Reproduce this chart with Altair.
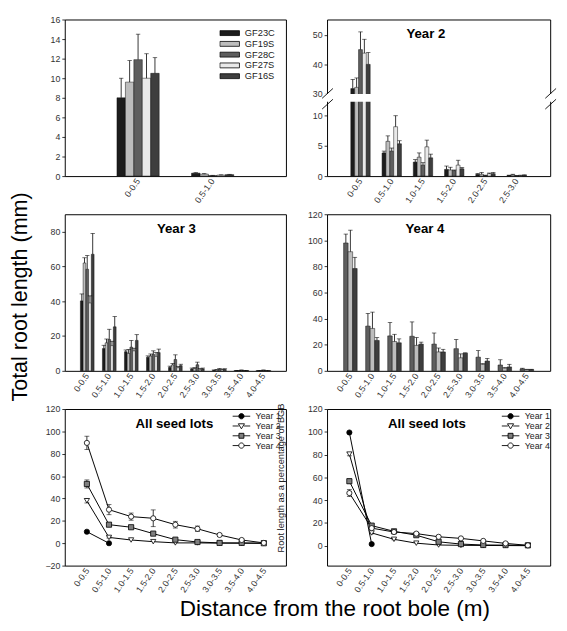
import altair as alt
import pandas as pd

FONT = "Liberation Sans"

DIST = ["0-0.5", "0.5-1.0", "1.0-1.5", "1.5-2.0", "2.0-2.5",
        "2.5-3.0", "3.0-3.5", "3.5-4.0", "4.0-4.5"]
LOTS = ["GF23C", "GF19S", "GF28C", "GF27S", "GF16S"]
LOT_COLORS = ["#1c1c1c", "#bdbdbd", "#5e5e5e", "#e9e9e9", "#3e3e3e"]

# ---- Year 1 (two distance classes) ----
Y1_DIST = DIST[:2]
Y1_MEAN = {"GF23C": [8.0, 0.30], "GF19S": [9.6, 0.20], "GF28C": [11.9, 0.05],
           "GF27S": [10.0, 0.10], "GF16S": [10.5, 0.15]}
Y1_TOP = {"GF23C": [10.0, 0.35], "GF19S": [11.8, 0.25], "GF28C": [14.5, 0.08],
          "GF27S": [12.5, 0.13], "GF16S": [12.1, 0.18]}

# ---- Year 2 (six distance classes, broken axis) ----
Y2_DIST = DIST[:6]
Y2_MEAN = {"GF23C": [31.8, 3.8, 2.3, 1.1, 0.3, 0.10],
           "GF19S": [32.2, 5.7, 3.1, 1.0, 0.3, 0.20],
           "GF28C": [45.0, 4.1, 1.8, 0.9, 0.1, 0.05],
           "GF27S": [43.8, 8.1, 4.8, 1.8, 0.4, 0.10],
           "GF16S": [40.0, 5.3, 3.0, 1.2, 0.4, 0.15]}
Y2_TOP = {"GF23C": [34.9, 4.1, 2.7, 1.65, 0.4, 0.15],
          "GF19S": [35.4, 6.6, 3.8, 1.45, 0.6, 0.30],
          "GF28C": [51.0, 4.6, 2.2, 1.0, 0.15, 0.08],
          "GF27S": [48.5, 9.9, 5.9, 2.6, 0.5, 0.15],
          "GF16S": [44.0, 5.8, 3.6, 1.4, 0.6, 0.20]}
Y2_BREAK = [12.2, 30.0]

# ---- Year 3 ----
Y3_MEAN = {"GF23C": [40.2, 12.8, 11.0, 7.8, 2.0, 1.0, 0.3, 0.1, 0.05],
           "GF19S": [62.0, 16.1, 10.0, 8.5, 3.4, 1.4, 0.5, 0.1, 0.10],
           "GF28C": [58.4, 18.0, 13.6, 9.5, 6.5, 3.5, 0.7, 0.3, 0.30],
           "GF27S": [39.0, 14.5, 11.5, 8.3, 1.8, 0.5, 0.7, 0.1, 0.10],
           "GF16S": [67.0, 25.3, 17.5, 10.5, 3.0, 1.1, 0.8, 0.1, 0.05]}
Y3_TOP = {"GF23C": [44.2, 14.7, 12.0, 8.6, 2.7, 1.6, 0.5, 0.2, 0.10],
          "GF19S": [65.0, 18.3, 12.3, 9.7, 4.2, 1.8, 0.7, 0.2, 0.15],
          "GF28C": [66.3, 23.9, 17.5, 11.5, 9.2, 5.0, 1.4, 0.5, 0.50],
          "GF27S": [43.1, 17.0, 13.0, 10.6, 2.6, 1.3, 1.0, 0.2, 0.15],
          "GF16S": [79.0, 31.2, 20.8, 12.5, 3.8, 1.6, 1.2, 0.2, 0.10]}

# ---- Year 4 (three seed lots) ----
Y4_LOTS = ["GF28C", "GF19S", "GF16S"]
Y4_MEAN = {"GF28C": [98.0, 34.3, 26.8, 26.5, 20.5, 17.0, 10.5, 4.5, 1.5],
           "GF19S": [91.3, 32.5, 22.5, 19.5, 14.5, 10.0, 5.0, 2.0, 1.0],
           "GF16S": [78.4, 23.3, 21.5, 20.5, 14.5, 13.5, 7.5, 3.0, 1.0]}
Y4_TOP = {"GF28C": [104.8, 44.0, 37.0, 37.5, 29.0, 24.0, 15.5, 8.5, 2.0],
          "GF19S": [107.8, 45.0, 28.0, 25.5, 17.5, 13.0, 5.5, 2.5, 1.2],
          "GF16S": [87.0, 25.5, 24.5, 22.0, 16.5, 13.8, 9.5, 5.0, 1.2]}

# ---- All seed lots ----
YEARS = ["Year 1", "Year 2", "Year 3", "Year 4"]
ABS_MEAN = {"Year 1": [10.3, 0.0],
            "Year 2": [38.0, 5.2, 2.9, 1.4, 0.3, 0.3, 0.1, 0.0, 0.0],
            "Year 3": [53.0, 16.6, 14.3, 8.6, 3.2, 1.1, 0.3, 0.3, 0.0],
            "Year 4": [89.7, 30.0, 23.8, 22.3, 16.6, 12.9, 7.4, 2.9, 0.3]}
ABS_ERR = {"Year 1": [0.8, 0.2],
           "Year 2": [2.0, 0.6, 0.4, 0.3, 0.1, 0.1, 0.0, 0.0, 0.0],
           "Year 3": [3.6, 1.5, 1.5, 0.8, 0.6, 0.4, 0.1, 0.1, 0.0],
           "Year 4": [6.0, 4.5, 3.2, 7.5, 3.0, 2.5, 1.2, 0.8, 0.1]}
PCT_MEAN = {"Year 1": [99.4, 1.4],
            "Year 2": [80.4, 11.2, 5.6, 2.2, 0.6, 0.3, 0.2, 0.1, 0.0],
            "Year 3": [56.6, 17.6, 12.6, 9.2, 3.4, 1.4, 0.6, 0.5, 0.3],
            "Year 4": [46.2, 15.4, 12.0, 10.6, 7.8, 6.4, 4.2, 2.0, 0.3]}
PCT_ERR = {"Year 1": [0.8, 0.3],
           "Year 2": [1.5, 0.8, 0.5, 0.3, 0.1, 0.1, 0.0, 0.0, 0.0],
           "Year 3": [2.0, 1.0, 0.8, 0.6, 0.4, 0.2, 0.1, 0.1, 0.0],
           "Year 4": [3.0, 1.0, 0.8, 0.6, 0.5, 0.5, 0.3, 0.2, 0.1]}

YEAR_SHAPES = ["circle", "triangle-down", "square", "circle"]
YEAR_FILLS = ["black", "white", "#7f7f7f", "white"]
YEAR_STROKES = ["black", "black", "black", "black"]
LEGEND_PATHS = [
    "M-1,0H-0.3M0.3,0H1M0.3,0A0.3,0.3,0,1,1,-0.3,0A0.3,0.3,0,1,1,0.3,0Z",
    "M-1,0H-0.3M0.3,0H1M-0.35,-0.25L0.35,-0.25L0,0.32Z",
    "M-1,0H-0.28M0.28,0H1M-0.28,-0.28H0.28V0.28H-0.28Z",
    "M-1,0H-0.3M0.3,0H1M0.3,0A0.3,0.3,0,1,1,-0.3,0A0.3,0.3,0,1,1,0.3,0Z",
]
SLASH_PATH = "M-0.55,0.05L0.55,-0.95M-0.55,1.15L0.55,0.15"

W1, W2, H = 226, 228, 160


def bar_df(dists, lots, means, tops):
    rows = []
    for lot in lots:
        for d, m, t in zip(dists, means[lot], tops[lot]):
            rows.append({"dist": d, "lot": lot, "mean": m, "top": t})
    return pd.DataFrame(rows)


def line_df(means, errs):
    rows = []
    for yr in YEARS:
        for d, m, e in zip(DIST, means[yr], errs[yr]):
            rows.append({"dist": d, "year": yr, "val": m, "lo": m - e, "hi": m + e, "e": e})
    return pd.DataFrame(rows)


def xaxis(extra=None):
    kw = dict(title=None, labelAngle=-55, ticks=False, domain=False,
              labelPadding=3, labelFontSize=9)
    kw.update(extra or {})
    return alt.Axis(**kw)


def yaxis(values, extra=None):
    kw = dict(title=None, values=values, tickSize=3, labelPadding=2)
    kw.update(extra or {})
    return alt.Axis(**kw)


def title_layer(text, tx):
    return alt.Chart(pd.DataFrame({"t": [text]})).mark_text(
        font=FONT, fontSize=13.5, fontWeight="bold", color="black"
    ).encode(text="t:N", x=alt.value(tx), y=alt.value(15))


def bar_panel(df, dists, lots, w, yscale, yvalues, pi, po, legend=None,
              title=None, tx=0, yaxis_kw=None, broken=None):
    xenc = alt.X("dist:N", sort=dists,
                 scale=alt.Scale(domain=dists, paddingInner=pi, paddingOuter=po),
                 axis=xaxis())
    xoff = alt.XOffset("lot:N", sort=lots,
                       scale=alt.Scale(domain=lots, paddingInner=0, paddingOuter=0))
    yax = yaxis(yvalues, yaxis_kw)
    base = alt.Chart(df)
    bars = base.mark_bar(stroke="#111111", strokeWidth=0.5).encode(
        x=xenc, xOffset=xoff,
        y=alt.Y("mean:Q", scale=yscale, axis=yax),
        fill=alt.Fill("lot:N", scale=alt.Scale(domain=LOTS, range=LOT_COLORS),
                      legend=legend))
    errs = base.mark_rule(color="black", strokeWidth=0.8).encode(
        x=xenc, xOffset=xoff, y=alt.Y("mean:Q", scale=yscale, axis=yax), y2="top:Q")
    caps = base.mark_tick(color="black", thickness=0.8, size=4.5).encode(
        x=xenc, xOffset=xoff, y=alt.Y("top:Q", scale=yscale, axis=yax))
    layers = [bars, errs, caps]
    if broken is not None:
        gap = alt.Chart(pd.DataFrame({"lo": [Y2_BREAK[0]], "hi": [Y2_BREAK[1]]})).mark_rect(
            fill="white").encode(
            x=alt.value(-4), x2=alt.value(w + 4),
            y=alt.Y("lo:Q", scale=yscale, axis=yax), y2="hi:Q")
        layers.append(gap)
        for sx in [0.5, w + 0.5]:
            layers.append(
                alt.Chart(pd.DataFrame({"k": [0]})).mark_point(
                    shape=SLASH_PATH, size=400, stroke="black", strokeWidth=0.9,
                    filled=False, opacity=1).encode(x=alt.value(sx), y=alt.value(broken)))
    if title:
        layers.append(title_layer(title, tx))
    return alt.layer(*layers).properties(width=w, height=H)


def line_panel(df, w, ydomain, yvalues, legx, tx, xaxis_kw=None, yaxis_kw=None):
    xenc = alt.X("dist:N", sort=DIST, scale=alt.Scale(type="point", domain=DIST, padding=1),
                 axis=xaxis(xaxis_kw))
    yscale = alt.Scale(domain=ydomain, nice=False, zero=False)
    yax = yaxis(yvalues, yaxis_kw)
    base = alt.Chart(df)
    line = base.mark_line(color="black", strokeWidth=1).encode(
        x=xenc, y=alt.Y("val:Q", scale=yscale, axis=yax), detail="year:N")
    ebase = base.transform_filter("datum.e >= 0.5")
    rule = ebase.mark_rule(color="black", strokeWidth=0.8).encode(
        x=xenc, y=alt.Y("lo:Q", scale=yscale, axis=yax), y2="hi:Q")
    caplo = ebase.mark_tick(color="black", thickness=0.8, size=5).encode(
        x=xenc, y=alt.Y("lo:Q", scale=yscale, axis=yax))
    caphi = ebase.mark_tick(color="black", thickness=0.8, size=5).encode(
        x=xenc, y=alt.Y("hi:Q", scale=yscale, axis=yax))
    pts = base.mark_point(size=28, stroke="black", strokeWidth=0.8, opacity=1).encode(
        x=xenc, y=alt.Y("val:Q", scale=yscale, axis=yax),
        shape=alt.Shape("year:N", scale=alt.Scale(domain=YEARS, range=YEAR_SHAPES), legend=None),
        fill=alt.Fill("year:N", scale=alt.Scale(domain=YEARS, range=YEAR_FILLS), legend=None))
    leg = dict(title=None, orient="none", legendX=legx, legendY=2.5, symbolSize=324,
               symbolStrokeWidth=0.9, symbolOpacity=1,
               labelFontSize=9, labelColor="#222", labelOffset=5, clipHeight=9.7,
               rowPadding=0, padding=0)
    legl = base.transform_calculate(leg="datum.year").mark_point(
        opacity=0, strokeWidth=0.9).encode(
        x=xenc, y=alt.Y("val:Q", scale=yscale, axis=yax),
        shape=alt.Shape("leg:N", scale=alt.Scale(domain=YEARS, range=LEGEND_PATHS),
                        legend=alt.Legend(**leg)),
        fill=alt.Fill("leg:N", scale=alt.Scale(domain=YEARS, range=YEAR_FILLS),
                      legend=alt.Legend(**leg)),
        stroke=alt.Stroke("leg:N", scale=alt.Scale(domain=YEARS, range=YEAR_STROKES),
                          legend=alt.Legend(**leg)))
    return alt.layer(line, rule, caplo, caphi, pts, legl, title_layer("All seed lots", tx)).resolve_scale(
        shape="independent", fill="independent", stroke="independent"
    ).properties(width=w, height=H)


p1 = bar_panel(
    bar_df(Y1_DIST, LOTS, Y1_MEAN, Y1_TOP), Y1_DIST, LOTS, W1,
    alt.Scale(domain=[0, 16], nice=False), list(range(0, 17, 2)), 0.434, 0.70,
    legend=alt.Legend(title=None, orient="none", legendX=158, legendY=8.5,
                      symbolType="M-1,-0.25H1V0.25H-1Z", symbolSize=400,
                      symbolStrokeColor="black", symbolStrokeWidth=0.8,
                      labelFontSize=9.5, labelColor="#222", labelOffset=5,
                      clipHeight=10.8, rowPadding=0, padding=0))

Y2_RANGE = [H, 84, 76, 0]
p2 = bar_panel(
    bar_df(Y2_DIST, LOTS, Y2_MEAN, Y2_TOP), Y2_DIST, LOTS, W2,
    alt.Scale(domain=[0, Y2_BREAK[0], Y2_BREAK[1], 55.2], range=Y2_RANGE, nice=False, zero=False),
    [0, 5, 10, 30, 40, 50], 0.38, 0.76, title="Year 2", tx=101,
    broken=(Y2_RANGE[1] + Y2_RANGE[2]) / 2)

p3 = bar_panel(
    bar_df(DIST, LOTS, Y3_MEAN, Y3_TOP), DIST, LOTS, W1,
    alt.Scale(domain=[0, 90], nice=False), [0, 20, 40, 60, 80], 0.38, 0.71,
    title="Year 3", tx=114,
    yaxis_kw=dict(title="Total root length (mm)", titleX=-56, titleY=84, titleAngle=270,
                  titleAlign="center", titleBaseline="top", titleFontSize=22,
                  titleFontWeight="normal", titleColor="black", titleFont=FONT))

p4 = bar_panel(
    bar_df(DIST, Y4_LOTS, Y4_MEAN, Y4_TOP), DIST, Y4_LOTS, W2,
    alt.Scale(domain=[0, 120], nice=False), list(range(0, 121, 20)), 0.385, 0.75,
    title="Year 4", tx=100)

p5 = line_panel(
    line_df(ABS_MEAN, ABS_ERR), W1, [-20, 120], list(range(-20, 121, 20)), 171, 112,
    xaxis_kw=dict(title="Distance from the root bole (m)", titleX=275.5, titleY=51,
                  titleAlign="center", titleBaseline="alphabetic", titleFontSize=23,
                  titleFontWeight="normal", titleColor="black", titleFont=FONT))

p6 = line_panel(
    line_df(PCT_MEAN, PCT_ERR), W2, [-17.5, 120], list(range(0, 121, 20)), 178, 102,
    yaxis_kw=dict(title="Root length as a percentage of BGB", titleX=-47, titleY=70,
                  titleAngle=270, titleAlign="center", titleBaseline="middle",
                  titleFontSize=9.5, titleFontWeight="normal", titleColor="#222",
                  titleFont=FONT))

chart = alt.concat(
    p1, p2, p3, p4, p5, p6, columns=2, spacing={"row": 39, "column": 42}
).properties(
    bounds="flush", align="each", padding=0
).resolve_scale(
    x="independent", y="independent", fill="independent", shape="independent",
    stroke="independent", xOffset="independent"
).configure(font=FONT).configure_view(
    stroke="black", strokeWidth=1
).configure_axis(
    labelFont=FONT, labelFontSize=9, labelColor="#333", tickColor="black",
    tickWidth=0.8, domain=False, grid=False
).configure_legend(labelFont=FONT)

chart.save("out.html", embed_options={"renderer": "svg", "actions": False})
